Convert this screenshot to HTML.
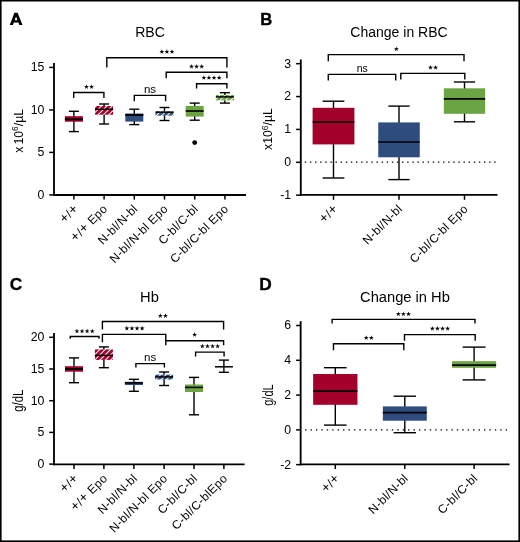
<!DOCTYPE html><html><head><meta charset="utf-8"><style>html,body{margin:0;padding:0;background:#fff;}svg{display:block;will-change:transform;}</style></head><body>
<svg width="520" height="542" viewBox="0 0 520 542" font-family='"Liberation Sans", sans-serif'>
<defs>
<pattern id="hr" patternUnits="userSpaceOnUse" x="-1.0" width="3.8" height="3.8" patternTransform="rotate(45)"><rect x="0" y="0" width="2.8" height="3.8" fill="#a3002b"/></pattern>
<pattern id="hb" patternUnits="userSpaceOnUse" x="-1.0" width="3.8" height="3.8" patternTransform="rotate(45)"><rect x="0" y="0" width="2.8" height="3.8" fill="#2e4c7d"/></pattern>
<pattern id="hg" patternUnits="userSpaceOnUse" x="-1.0" width="3.8" height="3.8" patternTransform="rotate(45)"><rect x="0" y="0" width="2.8" height="3.8" fill="#6aa443"/></pattern>
</defs>
<rect x="0" y="0" width="520" height="542" fill="#fff"/>
<path d="M9.8 24.9 L14.4 12.7 L17.6 12.7 L22.5 24.9 L19.4 24.9 L18.4 22.4 L13.84 22.4 L12.9 24.9 Z M14.67 20.2 L17.5 20.2 L16.04 16.56 Z" fill="#000" fill-rule="evenodd"/>
<text x="150" y="37.3" font-size="14" text-anchor="middle" font-weight="normal" >RBC</text>
<line x1="54" y1="63" x2="54" y2="195.9" stroke="#000" stroke-width="1.85"/>
<line x1="53.1" y1="195" x2="246" y2="195" stroke="#000" stroke-width="1.85"/>
<line x1="49.2" y1="194.9" x2="54" y2="194.9" stroke="#000" stroke-width="1.5"/>
<text x="44.4" y="198.9" font-size="12.3" text-anchor="end" font-weight="normal" >0</text>
<line x1="49.2" y1="152.4" x2="54" y2="152.4" stroke="#000" stroke-width="1.5"/>
<text x="44.4" y="156.4" font-size="12.3" text-anchor="end" font-weight="normal" >5</text>
<line x1="49.2" y1="109.9" x2="54" y2="109.9" stroke="#000" stroke-width="1.5"/>
<text x="44.4" y="113.9" font-size="12.3" text-anchor="end" font-weight="normal" >10</text>
<line x1="49.2" y1="67.4" x2="54" y2="67.4" stroke="#000" stroke-width="1.5"/>
<text x="44.4" y="71.4" font-size="12.3" text-anchor="end" font-weight="normal" >15</text>
<line x1="73.9" y1="195" x2="73.9" y2="199.6" stroke="#000" stroke-width="1.5"/>
<line x1="104.1" y1="195" x2="104.1" y2="199.6" stroke="#000" stroke-width="1.5"/>
<line x1="134.3" y1="195" x2="134.3" y2="199.6" stroke="#000" stroke-width="1.5"/>
<line x1="164.5" y1="195" x2="164.5" y2="199.6" stroke="#000" stroke-width="1.5"/>
<line x1="194.7" y1="195" x2="194.7" y2="199.6" stroke="#000" stroke-width="1.5"/>
<line x1="224.9" y1="195" x2="224.9" y2="199.6" stroke="#000" stroke-width="1.5"/>
<text transform="translate(22.6,130.9) rotate(-90)" font-size="12.2" text-anchor="middle">x<tspan dx="-1.3"> 10</tspan><tspan font-size="8.5" dy="-4.5">6</tspan><tspan dy="4.5">/µL</tspan></text>
<line x1="73.9" y1="111.3" x2="73.9" y2="131.6" stroke="#000" stroke-width="1.4"/>
<line x1="68.9" y1="111.3" x2="78.9" y2="111.3" stroke="#000" stroke-width="1.4"/>
<line x1="68.9" y1="131.6" x2="78.9" y2="131.6" stroke="#000" stroke-width="1.4"/>
<rect x="64.9" y="116.2" width="18" height="5.5" fill="#a3002b"/>
<line x1="64.9" y1="119.3" x2="82.9" y2="119.3" stroke="#000" stroke-width="1.9"/>
<line x1="104.1" y1="104.0" x2="104.1" y2="124.0" stroke="#000" stroke-width="1.4"/>
<line x1="99.1" y1="104.0" x2="109.1" y2="104.0" stroke="#000" stroke-width="1.4"/>
<line x1="99.1" y1="124.0" x2="109.1" y2="124.0" stroke="#000" stroke-width="1.4"/>
<rect x="95.1" y="106.0" width="18" height="8.7" fill="#fff"/>
<rect x="95.1" y="106.0" width="18" height="8.7" fill="url(#hr)"/>
<line x1="95.1" y1="109.3" x2="113.1" y2="109.3" stroke="#000" stroke-width="1.5"/>
<line x1="134.3" y1="109.2" x2="134.3" y2="124.6" stroke="#000" stroke-width="1.4"/>
<line x1="129.3" y1="109.2" x2="139.3" y2="109.2" stroke="#000" stroke-width="1.4"/>
<line x1="129.3" y1="124.6" x2="139.3" y2="124.6" stroke="#000" stroke-width="1.4"/>
<rect x="125.3" y="113.5" width="18" height="8.1" fill="#2e4c7d"/>
<line x1="125.3" y1="115.0" x2="143.3" y2="115.0" stroke="#000" stroke-width="1.9"/>
<line x1="164.5" y1="107.5" x2="164.5" y2="120.5" stroke="#000" stroke-width="1.4"/>
<line x1="159.5" y1="107.5" x2="169.5" y2="107.5" stroke="#000" stroke-width="1.4"/>
<line x1="159.5" y1="120.5" x2="169.5" y2="120.5" stroke="#000" stroke-width="1.4"/>
<rect x="155.5" y="111.4" width="18" height="4.2" fill="#fff"/>
<rect x="155.5" y="111.4" width="18" height="4.2" fill="url(#hb)"/>
<line x1="155.5" y1="112.2" x2="173.5" y2="112.2" stroke="#000" stroke-width="1.5"/>
<line x1="194.7" y1="103.1" x2="194.7" y2="120.2" stroke="#000" stroke-width="1.4"/>
<line x1="189.7" y1="103.1" x2="199.7" y2="103.1" stroke="#000" stroke-width="1.4"/>
<line x1="189.7" y1="120.2" x2="199.7" y2="120.2" stroke="#000" stroke-width="1.4"/>
<rect x="185.7" y="105.9" width="18" height="10.7" fill="#6aa443"/>
<line x1="185.7" y1="111.0" x2="203.7" y2="111.0" stroke="#000" stroke-width="1.6"/>
<line x1="224.9" y1="92.7" x2="224.9" y2="103.1" stroke="#000" stroke-width="1.4"/>
<line x1="219.9" y1="92.7" x2="229.9" y2="92.7" stroke="#000" stroke-width="1.4"/>
<line x1="219.9" y1="103.1" x2="229.9" y2="103.1" stroke="#000" stroke-width="1.4"/>
<rect x="215.9" y="95.0" width="18" height="5.3" fill="#fff"/>
<rect x="215.9" y="95.0" width="18" height="5.3" fill="url(#hg)"/>
<line x1="215.9" y1="96.9" x2="233.9" y2="96.9" stroke="#000" stroke-width="1.5"/>
<circle cx="194.7" cy="142.6" r="2.4" fill="#000"/>
<path d="M73.7 97.9 V92.5 H103.9 V97.9" fill="none" stroke="#000" stroke-width="1.4"/>
<polygon points="86.45,84.20 87.03,86.00 88.92,86.00 87.39,87.11 87.98,88.90 86.45,87.79 84.92,88.90 85.51,87.11 83.98,86.00 85.87,86.00" fill="#000"/>
<polygon points="91.55,84.20 92.13,86.00 94.02,86.00 92.49,87.11 93.08,88.90 91.55,87.79 90.02,88.90 90.61,87.11 89.08,86.00 90.97,86.00" fill="#000"/>
<path d="M134.3 101.3 V95.4 H165.6 V101.3" fill="none" stroke="#000" stroke-width="1.4"/>
<text x="150" y="92.8" font-size="11.5" text-anchor="middle" font-weight="normal" >ns</text>
<path d="M106.8 67.6 V57.7 H226.9 V67.6" fill="none" stroke="#000" stroke-width="1.4"/>
<polygon points="161.80,49.10 162.38,50.90 164.27,50.90 162.74,52.01 163.33,53.80 161.80,52.69 160.27,53.80 160.86,52.01 159.33,50.90 161.22,50.90" fill="#000"/>
<polygon points="166.90,49.10 167.48,50.90 169.37,50.90 167.84,52.01 168.43,53.80 166.90,52.69 165.37,53.80 165.96,52.01 164.43,50.90 166.32,50.90" fill="#000"/>
<polygon points="172.00,49.10 172.58,50.90 174.47,50.90 172.94,52.01 173.53,53.80 172.00,52.69 170.47,53.80 171.06,52.01 169.53,50.90 171.42,50.90" fill="#000"/>
<path d="M166.2 78.3 V72.3 H226.9 V78.3" fill="none" stroke="#000" stroke-width="1.4"/>
<polygon points="191.50,64.00 192.08,65.80 193.97,65.80 192.44,66.91 193.03,68.70 191.50,67.59 189.97,68.70 190.56,66.91 189.03,65.80 190.92,65.80" fill="#000"/>
<polygon points="196.60,64.00 197.18,65.80 199.07,65.80 197.54,66.91 198.13,68.70 196.60,67.59 195.07,68.70 195.66,66.91 194.13,65.80 196.02,65.80" fill="#000"/>
<polygon points="201.70,64.00 202.28,65.80 204.17,65.80 202.64,66.91 203.23,68.70 201.70,67.59 200.17,68.70 200.76,66.91 199.23,65.80 201.12,65.80" fill="#000"/>
<path d="M196.6 88.5 V83.8 H226.9 V88.5" fill="none" stroke="#000" stroke-width="1.4"/>
<polygon points="203.85,75.10 204.43,76.90 206.32,76.90 204.79,78.01 205.38,79.80 203.85,78.69 202.32,79.80 202.91,78.01 201.38,76.90 203.27,76.90" fill="#000"/>
<polygon points="208.95,75.10 209.53,76.90 211.42,76.90 209.89,78.01 210.48,79.80 208.95,78.69 207.42,79.80 208.01,78.01 206.48,76.90 208.37,76.90" fill="#000"/>
<polygon points="214.05,75.10 214.63,76.90 216.52,76.90 214.99,78.01 215.58,79.80 214.05,78.69 212.52,79.80 213.11,78.01 211.58,76.90 213.47,76.90" fill="#000"/>
<polygon points="219.15,75.10 219.73,76.90 221.62,76.90 220.09,78.01 220.68,79.80 219.15,78.69 217.62,79.80 218.21,78.01 216.68,76.90 218.57,76.90" fill="#000"/>
<text transform="translate(79,209.5) rotate(-45)" font-size="12" letter-spacing="0.35" text-anchor="end"><tspan font-size="13.5">+</tspan>/<tspan font-size="13.5">+</tspan></text>
<text transform="translate(108.3,209.5) rotate(-45)" font-size="12" letter-spacing="0.35" text-anchor="end"><tspan font-size="13.5">+</tspan>/<tspan font-size="13.5">+</tspan> Epo</text>
<text transform="translate(138.5,209.5) rotate(-45)" font-size="12" letter-spacing="0.35" text-anchor="end">N-bl/N-bl</text>
<text transform="translate(168.7,209.5) rotate(-45)" font-size="12" letter-spacing="0.35" text-anchor="end">N-bl/N-bl Epo</text>
<text transform="translate(198.9,209.5) rotate(-45)" font-size="12" letter-spacing="0.35" text-anchor="end">C-bl/C-bl</text>
<text transform="translate(229.1,209.5) rotate(-45)" font-size="12" letter-spacing="0.35" text-anchor="end">C-bl/C-bl Epo</text>
<text x="260.2" y="25.1" font-size="16.6" text-anchor="start" font-weight="bold" stroke="#000" stroke-width="0.4">B</text>
<text x="399" y="37.2" font-size="14" text-anchor="middle" font-weight="normal" >Change in RBC</text>
<line x1="300.8" y1="59.5" x2="300.8" y2="195.7" stroke="#000" stroke-width="1.85"/>
<line x1="299.9" y1="194.8" x2="497.5" y2="194.8" stroke="#000" stroke-width="1.85"/>
<line x1="296.1" y1="195.17" x2="300.8" y2="195.17" stroke="#000" stroke-width="1.5"/>
<text x="291.1" y="199.07" font-size="12.3" text-anchor="end" font-weight="normal" >-1</text>
<line x1="296.1" y1="162.3" x2="300.8" y2="162.3" stroke="#000" stroke-width="1.5"/>
<text x="291.1" y="166.2" font-size="12.3" text-anchor="end" font-weight="normal" >0</text>
<line x1="296.1" y1="129.43" x2="300.8" y2="129.43" stroke="#000" stroke-width="1.5"/>
<text x="291.1" y="133.33" font-size="12.3" text-anchor="end" font-weight="normal" >1</text>
<line x1="296.1" y1="96.56" x2="300.8" y2="96.56" stroke="#000" stroke-width="1.5"/>
<text x="291.1" y="100.46" font-size="12.3" text-anchor="end" font-weight="normal" >2</text>
<line x1="296.1" y1="63.69" x2="300.8" y2="63.69" stroke="#000" stroke-width="1.5"/>
<text x="291.1" y="67.59" font-size="12.3" text-anchor="end" font-weight="normal" >3</text>
<line x1="333.5" y1="194.8" x2="333.5" y2="199.8" stroke="#000" stroke-width="1.5"/>
<line x1="399.0" y1="194.8" x2="399.0" y2="199.8" stroke="#000" stroke-width="1.5"/>
<line x1="464.5" y1="194.8" x2="464.5" y2="199.8" stroke="#000" stroke-width="1.5"/>
<text transform="translate(272.2,129.1) rotate(-90)" font-size="12.2" text-anchor="middle">x10<tspan font-size="8.5" dy="-4.5">6</tspan><tspan dy="4.5">/µL</tspan></text>
<line x1="304.8" y1="162.2" x2="497" y2="162.2" stroke="#000" stroke-width="1.3" stroke-dasharray="1.4 3.72"/>
<line x1="333.5" y1="101.2" x2="333.5" y2="178.0" stroke="#000" stroke-width="1.4"/>
<line x1="322.6" y1="101.2" x2="344.4" y2="101.2" stroke="#000" stroke-width="1.4"/>
<line x1="322.6" y1="178.0" x2="344.4" y2="178.0" stroke="#000" stroke-width="1.4"/>
<rect x="312.6" y="107.8" width="41.8" height="36.6" fill="#a3002b"/>
<line x1="312.6" y1="122.0" x2="354.4" y2="122.0" stroke="#000" stroke-width="1.7"/>
<line x1="399.0" y1="106.1" x2="399.0" y2="179.6" stroke="#000" stroke-width="1.4"/>
<line x1="388.4" y1="106.1" x2="409.6" y2="106.1" stroke="#000" stroke-width="1.4"/>
<line x1="388.4" y1="179.6" x2="409.6" y2="179.6" stroke="#000" stroke-width="1.4"/>
<rect x="378.25" y="122.4" width="41.5" height="34.9" fill="#2e4c7d"/>
<line x1="378.25" y1="142.0" x2="419.75" y2="142.0" stroke="#000" stroke-width="1.7"/>
<line x1="464.5" y1="82.0" x2="464.5" y2="121.8" stroke="#000" stroke-width="1.4"/>
<line x1="453.9" y1="82.0" x2="475.1" y2="82.0" stroke="#000" stroke-width="1.4"/>
<line x1="453.9" y1="121.8" x2="475.1" y2="121.8" stroke="#000" stroke-width="1.4"/>
<rect x="443.85" y="88.3" width="41.3" height="25.5" fill="#6aa443"/>
<line x1="443.85" y1="98.8" x2="485.15" y2="98.8" stroke="#000" stroke-width="1.7"/>
<path d="M328.3 61.2 V54.6 H464 V61.2" fill="none" stroke="#000" stroke-width="1.4"/>
<polygon points="396.40,46.40 396.98,48.20 398.87,48.20 397.34,49.31 397.93,51.10 396.40,49.99 394.87,51.10 395.46,49.31 393.93,48.20 395.82,48.20" fill="#000"/>
<path d="M328.3 80.6 V74.4 H395.7 V80.6" fill="none" stroke="#000" stroke-width="1.4"/>
<text x="362.3" y="71.5" font-size="10.5" text-anchor="middle" font-weight="normal" >ns</text>
<path d="M400.8 79.6 V73.4 H464.8 V79.6" fill="none" stroke="#000" stroke-width="1.4"/>
<polygon points="430.45,65.00 431.03,66.80 432.92,66.80 431.39,67.91 431.98,69.70 430.45,68.59 428.92,69.70 429.51,67.91 427.98,66.80 429.87,66.80" fill="#000"/>
<polygon points="435.55,65.00 436.13,66.80 438.02,66.80 436.49,67.91 437.08,69.70 435.55,68.59 434.02,69.70 434.61,67.91 433.08,66.80 434.97,66.80" fill="#000"/>
<text transform="translate(338.6,209.5) rotate(-45)" font-size="12" letter-spacing="0.35" text-anchor="end"><tspan font-size="13.5">+</tspan>/<tspan font-size="13.5">+</tspan></text>
<text transform="translate(403.2,209.5) rotate(-45)" font-size="12" letter-spacing="0.35" text-anchor="end">N-bl/N-bl</text>
<text transform="translate(468.7,209.5) rotate(-45)" font-size="12" letter-spacing="0.35" text-anchor="end">C-bl/C-bl Epo</text>
<text x="9.8" y="290" font-size="17.3" text-anchor="start" font-weight="bold" stroke="#000" stroke-width="0.3">C</text>
<text x="149.5" y="301.7" font-size="14.7" text-anchor="middle" font-weight="normal" >Hb</text>
<line x1="54" y1="333.1" x2="54" y2="465.2" stroke="#000" stroke-width="1.85"/>
<line x1="53.1" y1="464.35" x2="244.6" y2="464.35" stroke="#000" stroke-width="1.85"/>
<line x1="49.2" y1="464.1" x2="54" y2="464.1" stroke="#000" stroke-width="1.5"/>
<text x="44.4" y="468.1" font-size="12.3" text-anchor="end" font-weight="normal" >0</text>
<line x1="49.2" y1="432.4" x2="54" y2="432.4" stroke="#000" stroke-width="1.5"/>
<text x="44.4" y="436.4" font-size="12.3" text-anchor="end" font-weight="normal" >5</text>
<line x1="49.2" y1="400.7" x2="54" y2="400.7" stroke="#000" stroke-width="1.5"/>
<text x="44.4" y="404.7" font-size="12.3" text-anchor="end" font-weight="normal" >10</text>
<line x1="49.2" y1="369.0" x2="54" y2="369.0" stroke="#000" stroke-width="1.5"/>
<text x="44.4" y="373.0" font-size="12.3" text-anchor="end" font-weight="normal" >15</text>
<line x1="49.2" y1="337.3" x2="54" y2="337.3" stroke="#000" stroke-width="1.5"/>
<text x="44.4" y="341.3" font-size="12.3" text-anchor="end" font-weight="normal" >20</text>
<line x1="74.0" y1="464.35" x2="74.0" y2="469.1" stroke="#000" stroke-width="1.5"/>
<line x1="103.9" y1="464.35" x2="103.9" y2="469.1" stroke="#000" stroke-width="1.5"/>
<line x1="133.9" y1="464.35" x2="133.9" y2="469.1" stroke="#000" stroke-width="1.5"/>
<line x1="164.1" y1="464.35" x2="164.1" y2="469.1" stroke="#000" stroke-width="1.5"/>
<line x1="194.0" y1="464.35" x2="194.0" y2="469.1" stroke="#000" stroke-width="1.5"/>
<line x1="223.9" y1="464.35" x2="223.9" y2="469.1" stroke="#000" stroke-width="1.5"/>
<text transform="translate(22.8,400.7) rotate(-90)" font-size="14" text-anchor="middle" textLength="22" lengthAdjust="spacingAndGlyphs">g/dL</text>
<line x1="74.0" y1="357.9" x2="74.0" y2="382.7" stroke="#000" stroke-width="1.4"/>
<line x1="69.0" y1="357.9" x2="79.0" y2="357.9" stroke="#000" stroke-width="1.4"/>
<line x1="69.0" y1="382.7" x2="79.0" y2="382.7" stroke="#000" stroke-width="1.4"/>
<rect x="65.0" y="366.2" width="18" height="5.5" fill="#a3002b"/>
<line x1="65.0" y1="369.0" x2="83.0" y2="369.0" stroke="#000" stroke-width="1.9"/>
<line x1="103.9" y1="346.9" x2="103.9" y2="367.7" stroke="#000" stroke-width="1.4"/>
<line x1="98.9" y1="346.9" x2="108.9" y2="346.9" stroke="#000" stroke-width="1.4"/>
<line x1="98.9" y1="367.7" x2="108.9" y2="367.7" stroke="#000" stroke-width="1.4"/>
<rect x="94.9" y="349.4" width="18" height="10.5" fill="#fff"/>
<rect x="94.9" y="349.4" width="18" height="10.5" fill="url(#hr)"/>
<line x1="94.9" y1="355.4" x2="112.9" y2="355.4" stroke="#000" stroke-width="1.5"/>
<line x1="133.9" y1="379.3" x2="133.9" y2="391.3" stroke="#000" stroke-width="1.4"/>
<line x1="128.9" y1="379.3" x2="138.9" y2="379.3" stroke="#000" stroke-width="1.4"/>
<line x1="128.9" y1="391.3" x2="138.9" y2="391.3" stroke="#000" stroke-width="1.4"/>
<rect x="124.9" y="381.8" width="18" height="3.2" fill="#2e4c7d"/>
<line x1="124.9" y1="382.9" x2="142.9" y2="382.9" stroke="#000" stroke-width="1.6"/>
<line x1="164.1" y1="372.0" x2="164.1" y2="385.5" stroke="#000" stroke-width="1.4"/>
<line x1="159.1" y1="372.0" x2="169.1" y2="372.0" stroke="#000" stroke-width="1.4"/>
<line x1="159.1" y1="385.5" x2="169.1" y2="385.5" stroke="#000" stroke-width="1.4"/>
<rect x="155.1" y="374.6" width="18" height="4.9" fill="#fff"/>
<rect x="155.1" y="374.6" width="18" height="4.9" fill="url(#hb)"/>
<line x1="155.1" y1="376.9" x2="173.1" y2="376.9" stroke="#000" stroke-width="1.5"/>
<line x1="194.0" y1="377.4" x2="194.0" y2="414.8" stroke="#000" stroke-width="1.4"/>
<line x1="189.0" y1="377.4" x2="199.0" y2="377.4" stroke="#000" stroke-width="1.4"/>
<line x1="189.0" y1="414.8" x2="199.0" y2="414.8" stroke="#000" stroke-width="1.4"/>
<rect x="185.0" y="384.5" width="18" height="7.5" fill="#6aa443"/>
<line x1="185.0" y1="387.4" x2="203.0" y2="387.4" stroke="#000" stroke-width="1.5"/>
<line x1="223.9" y1="360.1" x2="223.9" y2="372.3" stroke="#000" stroke-width="1.4"/>
<line x1="218.9" y1="360.1" x2="228.9" y2="360.1" stroke="#000" stroke-width="1.4"/>
<line x1="218.9" y1="372.3" x2="228.9" y2="372.3" stroke="#000" stroke-width="1.4"/>
<line x1="214.9" y1="366.8" x2="232.9" y2="366.8" stroke="#000" stroke-width="1.5"/>
<path d="M70.3 338.8 V336.5 H99.0 V338.8" fill="none" stroke="#000" stroke-width="1.4"/>
<polygon points="76.95,328.60 77.53,330.40 79.42,330.40 77.89,331.51 78.48,333.30 76.95,332.19 75.42,333.30 76.01,331.51 74.48,330.40 76.37,330.40" fill="#000"/>
<polygon points="82.05,328.60 82.63,330.40 84.52,330.40 82.99,331.51 83.58,333.30 82.05,332.19 80.52,333.30 81.11,331.51 79.58,330.40 81.47,330.40" fill="#000"/>
<polygon points="87.15,328.60 87.73,330.40 89.62,330.40 88.09,331.51 88.68,333.30 87.15,332.19 85.62,333.30 86.21,331.51 84.68,330.40 86.57,330.40" fill="#000"/>
<polygon points="92.25,328.60 92.83,330.40 94.72,330.40 93.19,331.51 93.78,333.30 92.25,332.19 90.72,333.30 91.31,331.51 89.78,330.40 91.67,330.40" fill="#000"/>
<path d="M102.4 329.6 V321.5 H223.6 V329.6" fill="none" stroke="#000" stroke-width="1.4"/>
<polygon points="160.35,313.20 160.93,315.00 162.82,315.00 161.29,316.11 161.88,317.90 160.35,316.79 158.82,317.90 159.41,316.11 157.88,315.00 159.77,315.00" fill="#000"/>
<polygon points="165.45,313.20 166.03,315.00 167.92,315.00 166.39,316.11 166.98,317.90 165.45,316.79 163.92,317.90 164.51,316.11 162.98,315.00 164.87,315.00" fill="#000"/>
<path d="M102.4 342.2 V334.4 H165.8 V341.0" fill="none" stroke="#000" stroke-width="1.4"/>
<polygon points="126.85,325.80 127.43,327.60 129.32,327.60 127.79,328.71 128.38,330.50 126.85,329.39 125.32,330.50 125.91,328.71 124.38,327.60 126.27,327.60" fill="#000"/>
<polygon points="131.95,325.80 132.53,327.60 134.42,327.60 132.89,328.71 133.48,330.50 131.95,329.39 130.42,330.50 131.01,328.71 129.48,327.60 131.37,327.60" fill="#000"/>
<polygon points="137.05,325.80 137.63,327.60 139.52,327.60 137.99,328.71 138.58,330.50 137.05,329.39 135.52,330.50 136.11,328.71 134.58,327.60 136.47,327.60" fill="#000"/>
<polygon points="142.15,325.80 142.73,327.60 144.62,327.60 143.09,328.71 143.68,330.50 142.15,329.39 140.62,330.50 141.21,328.71 139.68,327.60 141.57,327.60" fill="#000"/>
<path d="M165.8 345.3 V340.7 H223.6 V345.3" fill="none" stroke="#000" stroke-width="1.4"/>
<polygon points="194.60,332.10 195.18,333.90 197.07,333.90 195.54,335.01 196.13,336.80 194.60,335.69 193.07,336.80 193.66,335.01 192.13,333.90 194.02,333.90" fill="#000"/>
<path d="M195.6 356.5 V352.1 H224.1 V356.5" fill="none" stroke="#000" stroke-width="1.4"/>
<polygon points="202.35,343.60 202.93,345.40 204.82,345.40 203.29,346.51 203.88,348.30 202.35,347.19 200.82,348.30 201.41,346.51 199.88,345.40 201.77,345.40" fill="#000"/>
<polygon points="207.45,343.60 208.03,345.40 209.92,345.40 208.39,346.51 208.98,348.30 207.45,347.19 205.92,348.30 206.51,346.51 204.98,345.40 206.87,345.40" fill="#000"/>
<polygon points="212.55,343.60 213.13,345.40 215.02,345.40 213.49,346.51 214.08,348.30 212.55,347.19 211.02,348.30 211.61,346.51 210.08,345.40 211.97,345.40" fill="#000"/>
<polygon points="217.65,343.60 218.23,345.40 220.12,345.40 218.59,346.51 219.18,348.30 217.65,347.19 216.12,348.30 216.71,346.51 215.18,345.40 217.07,345.40" fill="#000"/>
<path d="M135.9 367.5 V363.6 H164.4 V367.5" fill="none" stroke="#000" stroke-width="1.4"/>
<text x="150.2" y="360.5" font-size="11.5" text-anchor="middle" font-weight="normal" >ns</text>
<text transform="translate(79.1,479) rotate(-45)" font-size="12" letter-spacing="0.35" text-anchor="end"><tspan font-size="13.5">+</tspan>/<tspan font-size="13.5">+</tspan></text>
<text transform="translate(108.1,479) rotate(-45)" font-size="12" letter-spacing="0.35" text-anchor="end"><tspan font-size="13.5">+</tspan>/<tspan font-size="13.5">+</tspan> Epo</text>
<text transform="translate(138.1,479) rotate(-45)" font-size="12" letter-spacing="0.35" text-anchor="end">N-bl/N-bl</text>
<text transform="translate(168.3,479) rotate(-45)" font-size="12" letter-spacing="0.35" text-anchor="end">N-bl/N-bl Epo</text>
<text transform="translate(198.2,479) rotate(-45)" font-size="12" letter-spacing="0.35" text-anchor="end">C-bl/C-bl</text>
<text transform="translate(228.1,479) rotate(-45)" font-size="12" letter-spacing="0.35" text-anchor="end">C-bl/C-blEpo</text>
<text x="259.2" y="290" font-size="17.3" text-anchor="start" font-weight="bold" stroke="#000" stroke-width="0.35">D</text>
<text x="405" y="302.2" font-size="14.7" text-anchor="middle" font-weight="normal" >Change in Hb</text>
<line x1="300.65" y1="321.2" x2="300.65" y2="465.3" stroke="#000" stroke-width="1.85"/>
<line x1="299.75" y1="464.4" x2="509.5" y2="464.4" stroke="#000" stroke-width="1.85"/>
<line x1="296.1" y1="464.63" x2="300.65" y2="464.63" stroke="#000" stroke-width="1.5"/>
<text x="291.1" y="468.53" font-size="12.3" text-anchor="end" font-weight="normal" >-2</text>
<line x1="296.1" y1="429.85" x2="300.65" y2="429.85" stroke="#000" stroke-width="1.5"/>
<text x="291.1" y="433.75" font-size="12.3" text-anchor="end" font-weight="normal" >0</text>
<line x1="296.1" y1="395.07" x2="300.65" y2="395.07" stroke="#000" stroke-width="1.5"/>
<text x="291.1" y="398.97" font-size="12.3" text-anchor="end" font-weight="normal" >2</text>
<line x1="296.1" y1="360.29" x2="300.65" y2="360.29" stroke="#000" stroke-width="1.5"/>
<text x="291.1" y="364.19" font-size="12.3" text-anchor="end" font-weight="normal" >4</text>
<line x1="296.1" y1="325.51" x2="300.65" y2="325.51" stroke="#000" stroke-width="1.5"/>
<text x="291.1" y="329.41" font-size="12.3" text-anchor="end" font-weight="normal" >6</text>
<line x1="335.3" y1="464.4" x2="335.3" y2="469" stroke="#000" stroke-width="1.5"/>
<line x1="404.8" y1="464.4" x2="404.8" y2="469" stroke="#000" stroke-width="1.5"/>
<line x1="474.1" y1="464.4" x2="474.1" y2="469" stroke="#000" stroke-width="1.5"/>
<text transform="translate(273.0,395.1) rotate(-90)" font-size="14" text-anchor="middle" textLength="21.4" lengthAdjust="spacingAndGlyphs">g/dL</text>
<line x1="305.1" y1="429.85" x2="507.4" y2="429.85" stroke="#000" stroke-width="1.3" stroke-dasharray="1.4 4.02"/>
<line x1="335.3" y1="367.7" x2="335.3" y2="425.1" stroke="#000" stroke-width="1.4"/>
<line x1="324.0" y1="367.7" x2="346.6" y2="367.7" stroke="#000" stroke-width="1.4"/>
<line x1="324.0" y1="425.1" x2="346.6" y2="425.1" stroke="#000" stroke-width="1.4"/>
<rect x="313.15" y="374.0" width="44.3" height="30.8" fill="#a3002b"/>
<line x1="313.15" y1="391.2" x2="357.45" y2="391.2" stroke="#000" stroke-width="1.7"/>
<line x1="404.8" y1="396.2" x2="404.8" y2="432.7" stroke="#000" stroke-width="1.4"/>
<line x1="393.6" y1="396.2" x2="416.0" y2="396.2" stroke="#000" stroke-width="1.4"/>
<line x1="393.6" y1="432.7" x2="416.0" y2="432.7" stroke="#000" stroke-width="1.4"/>
<rect x="382.85" y="406.4" width="43.9" height="14.3" fill="#2e4c7d"/>
<line x1="382.85" y1="412.7" x2="426.75" y2="412.7" stroke="#000" stroke-width="1.7"/>
<line x1="474.1" y1="347.1" x2="474.1" y2="379.9" stroke="#000" stroke-width="1.4"/>
<line x1="462.6" y1="347.1" x2="485.6" y2="347.1" stroke="#000" stroke-width="1.4"/>
<line x1="462.6" y1="379.9" x2="485.6" y2="379.9" stroke="#000" stroke-width="1.4"/>
<rect x="452.1" y="361.2" width="44.0" height="6.6" fill="#6aa443"/>
<line x1="452.1" y1="365.1" x2="496.1" y2="365.1" stroke="#000" stroke-width="1.7"/>
<path d="M332.1 323.6 V319.4 H475.0 V323.6" fill="none" stroke="#000" stroke-width="1.4"/>
<polygon points="398.30,311.50 398.88,313.30 400.77,313.30 399.24,314.41 399.83,316.20 398.30,315.09 396.77,316.20 397.36,314.41 395.83,313.30 397.72,313.30" fill="#000"/>
<polygon points="403.40,311.50 403.98,313.30 405.87,313.30 404.34,314.41 404.93,316.20 403.40,315.09 401.87,316.20 402.46,314.41 400.93,313.30 402.82,313.30" fill="#000"/>
<polygon points="408.50,311.50 409.08,313.30 410.97,313.30 409.44,314.41 410.03,316.20 408.50,315.09 406.97,316.20 407.56,314.41 406.03,313.30 407.92,313.30" fill="#000"/>
<path d="M333.5 350.2 V343.7 H403.8 V350.2" fill="none" stroke="#000" stroke-width="1.4"/>
<polygon points="366.25,335.20 366.83,337.00 368.72,337.00 367.19,338.11 367.78,339.90 366.25,338.79 364.72,339.90 365.31,338.11 363.78,337.00 365.67,337.00" fill="#000"/>
<polygon points="371.35,335.20 371.93,337.00 373.82,337.00 372.29,338.11 372.88,339.90 371.35,338.79 369.82,339.90 370.41,338.11 368.88,337.00 370.77,337.00" fill="#000"/>
<path d="M404.5 340.7 V334.6 H475.2 V340.7" fill="none" stroke="#000" stroke-width="1.4"/>
<polygon points="432.35,326.00 432.93,327.80 434.82,327.80 433.29,328.91 433.88,330.70 432.35,329.59 430.82,330.70 431.41,328.91 429.88,327.80 431.77,327.80" fill="#000"/>
<polygon points="437.45,326.00 438.03,327.80 439.92,327.80 438.39,328.91 438.98,330.70 437.45,329.59 435.92,330.70 436.51,328.91 434.98,327.80 436.87,327.80" fill="#000"/>
<polygon points="442.55,326.00 443.13,327.80 445.02,327.80 443.49,328.91 444.08,330.70 442.55,329.59 441.02,330.70 441.61,328.91 440.08,327.80 441.97,327.80" fill="#000"/>
<polygon points="447.65,326.00 448.23,327.80 450.12,327.80 448.59,328.91 449.18,330.70 447.65,329.59 446.12,330.70 446.71,328.91 445.18,327.80 447.07,327.80" fill="#000"/>
<text transform="translate(340.4,479) rotate(-45)" font-size="12" letter-spacing="0.35" text-anchor="end"><tspan font-size="13.5">+</tspan>/<tspan font-size="13.5">+</tspan></text>
<text transform="translate(409.0,479) rotate(-45)" font-size="12" letter-spacing="0.35" text-anchor="end">N-bl/N-bl</text>
<text transform="translate(478.3,479) rotate(-45)" font-size="12" letter-spacing="0.35" text-anchor="end">C-bl/C-bl</text>
<rect x="0" y="0" width="520" height="1.5" fill="#000"/><rect x="0" y="0" width="1.6" height="542" fill="#000"/><rect x="518.4" y="0" width="1.6" height="542" fill="#000"/><rect x="0" y="540.4" width="520" height="1.6" fill="#000"/>
</svg></body></html>
